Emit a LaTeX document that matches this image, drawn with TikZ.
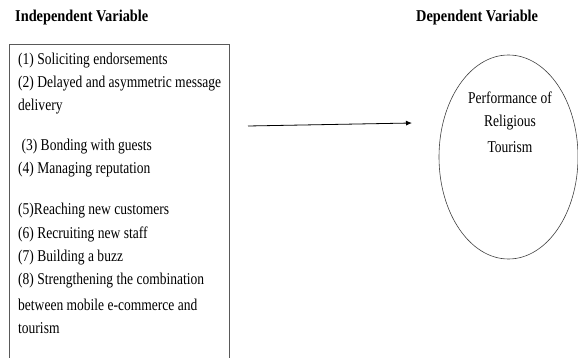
\documentclass[tikz,border=0pt]{standalone}
\usepackage{fontspec}
\setmainfont{Liberation Serif}[FakeStretch=0.82]
\newfontfamily\hdfont{Liberation Serif}[FakeStretch=0.87]
\usetikzlibrary{arrows.meta,shapes.geometric}
\begin{document}
\begin{tikzpicture}[x=1pt,y=-1pt,
  item/.style={anchor=west,inner sep=0pt,font=\fontsize{16.5}{18}\selectfont},
  head/.style={anchor=west,inner sep=0pt,font=\hdfont\fontsize{16.5}{18}\selectfont\bfseries},
  ctext/.style={anchor=center,inner sep=0pt,font=\fontsize{16.5}{18}\selectfont}]
\useasboundingbox (0,0) rectangle (578,358);
\node[head] (ih) at (15,18) {Independent Variable};
\node[head] (dh) at (416,18) {Dependent Variable};
\node[draw=black!65,line width=0.9pt,minimum width=220pt,minimum height=330pt,anchor=north west,inner sep=0pt] (box) at (9,44) {};
\node[item] (l1) at (18,61) {(1) Soliciting endorsements};
\node[item] (l2) at (18,84) {(2) Delayed and asymmetric message};
\node[item] (l2b) at (18,107) {delivery};
\node[item] (l3) at (18,147) {\ (3) Bonding with guests};
\node[item] (l4) at (18,170) {(4) Managing reputation};
\node[item] (l5) at (18,211) {(5)Reaching new customers};
\node[item] (l6) at (18,234) {(6) Recruiting new staff};
\node[item] (l7) at (18,258) {(7) Building a buzz};
\node[item] (l8) at (18,281) {(8) Strengthening the combination};
\node[item] (l8b) at (18,305) {between mobile e-commerce and};
\node[item] (l8c) at (18,328) {tourism};
\node[draw=black!75,line width=0.6pt,ellipse,minimum width=139pt,minimum height=204pt,inner sep=0pt] (dv) at (508.5,157) {};
\node[ctext] (t1) at (510,98) {Performance of};
\node[ctext] (t2) at (510,123) {Religious};
\node[ctext] (t3) at (510,147) {Tourism};
\coordinate (as) at (248,126);
\coordinate (ae) at (412,123);
\draw[line width=0.8pt,-{Latex[length=6pt,width=5pt]}] (as) -- (ae);
\end{tikzpicture}
\end{document}
